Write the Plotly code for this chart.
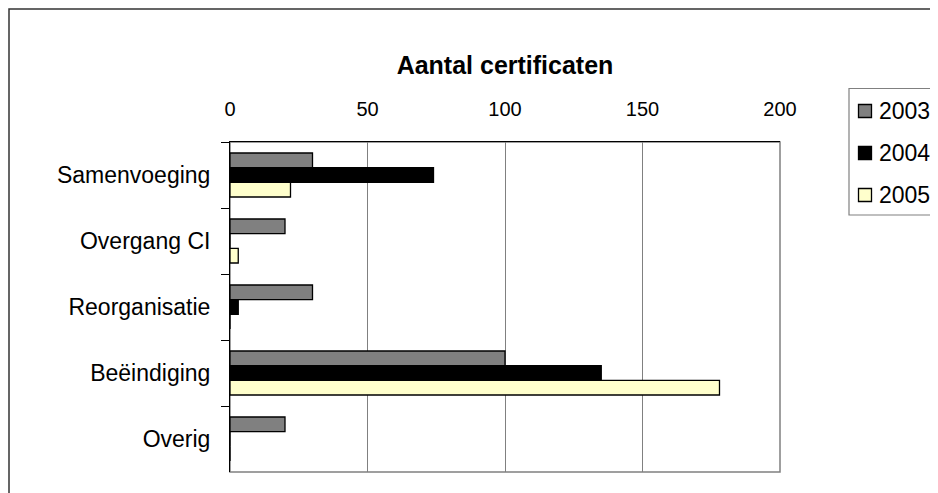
import plotly.graph_objects as go

categories = ["Samenvoeging", "Overgang CI", "Reorganisatie", "Beëindiging", "Overig"]
years = ["2003", "2004", "2005"]
values_2003 = [30, 20, 30, 100, 20]
values_2004 = [74, 0, 3, 135, 0]
values_2005 = [22, 3, 0, 178, 0]
series = [values_2003, values_2004, values_2005]
colors = ["#808080", "#000000", "#FFFFCC"]
x_ticks = [0, 50, 100, 150, 200]

FONT = "Liberation Sans, Arial, sans-serif"

fig = go.Figure()
for yr, vals, col in zip(years, series, colors):
    fig.add_trace(go.Bar(
        y=categories, x=vals, name=yr, orientation="h",
        marker=dict(color=col, line=dict(color="#000000", width=1.3)),
        showlegend=False,
    ))

# page has an 8px body margin: figure origin is at page (8, 8)
OFF = 8
W, H = 930, 485
L, R, T, B = 222, 158, 134, 21
pw, ph = W - L - R, H - T - B


def px_x(p):
    return (p - OFF - L) / pw


def px_y(p):
    return (H - B - (p - OFF)) / ph


fig.update_layout(
    width=W, height=H,
    margin=dict(l=L, r=R, t=T, b=B, autoexpand=False),
    paper_bgcolor="white", plot_bgcolor="white",
    barmode="group", bargap=0.333, bargroupgap=0,
    font=dict(family=FONT, color="#000000"),
    title=dict(text="<b>Aantal certificaten</b>", font=dict(size=25, family=FONT, color="#000"),
               xref="paper", x=0.5, xanchor="center",
               yref="container", y=1 - (65 - OFF) / H, yanchor="middle"),
    xaxis=dict(side="top", range=[0, 200], tickvals=x_ticks, ticktext=[str(v) for v in x_ticks],
               showgrid=True, gridcolor="#808080", gridwidth=1,
               showline=True, linecolor="#000000", linewidth=1,
               ticks="", tickfont=dict(size=20, family=FONT, color="#000"),
               ticklabelstandoff=17, zeroline=False, fixedrange=True),
    yaxis=dict(autorange="reversed", showgrid=False,
               showline=True, linecolor="#000000", linewidth=1,
               ticks="outside", tickson="boundaries", ticklen=8, tickcolor="#000",
               tickfont=dict(size=23, family=FONT, color="#000"),
               ticklabelstandoff=14, fixedrange=True),
    showlegend=False,
)

# plot area border (gray)
fig.add_shape(type="rect", xref="paper", yref="paper", x0=0, x1=1, y0=0, y1=1,
              line=dict(color="#808080", width=1.5), layer="below")
# outer chart border
fig.add_shape(type="rect", xref="paper", yref="paper",
              x0=px_x(9), x1=px_x(990), y0=px_y(560), y1=px_y(9),
              line=dict(color="#333333", width=1.5), layer="below")

# legend box (cut off at the right edge like the reference)
fig.add_shape(type="rect", xref="paper", yref="paper",
              x0=px_x(849), x1=px_x(990), y0=px_y(215), y1=px_y(88.5),
              line=dict(color="#808080", width=1.2), fillcolor="white", layer="above")
legend_centers = [111, 153, 195]
for yr, col, cy in zip(years, colors, legend_centers):
    fig.add_shape(type="rect", xref="paper", yref="paper",
                  x0=px_x(858.5), x1=px_x(871.5), y0=px_y(cy + 6.5), y1=px_y(cy - 6.5),
                  line=dict(color="#000000", width=1.3), fillcolor=col, layer="above")
    fig.add_annotation(text=yr, xref="paper", yref="paper", x=px_x(877), y=px_y(cy),
                       xanchor="left", yanchor="middle", showarrow=False,
                       font=dict(size=23, family=FONT, color="#000"))

fig.write_html("out.html")
